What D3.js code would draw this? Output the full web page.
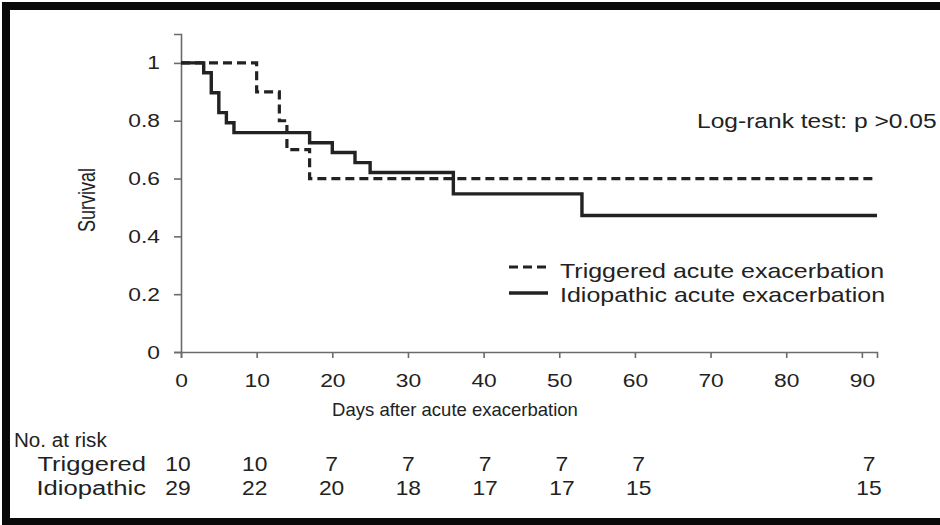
<!DOCTYPE html>
<html>
<head>
<meta charset="utf-8">
<script src="https://cdn.jsdelivr.net/npm/d3@7"></script>
<style>
  body { margin: 0; background: #fff; }
  svg { display: block; font-family: "Liberation Sans", Arial, sans-serif; }
</style>
</head>
<body>
<svg id="chart" width="940" height="525"></svg>
<script>
// Kaplan-Meier steps: [day, survival]
const triggeredSteps = [[0, 1], [10, 0.9], [13, 0.8], [14, 0.7], [17, 0.6], [92, 0.6]];
const idiopathicSteps = [[0, 1], [3, 0.966], [4, 0.897], [5, 0.828], [6, 0.793], [7, 0.759],
  [17, 0.724], [20, 0.69], [23, 0.655], [25, 0.621], [36, 0.547], [53, 0.472], [92, 0.472]];

const xTicks = [0, 10, 20, 30, 40, 50, 60, 70, 80, 90];
const yTicks = [0, 0.2, 0.4, 0.6, 0.8, 1];

// numbers at risk
const riskDays = [0, 10, 20, 30, 40, 50, 60, 90];
const riskTriggered = [10, 10, 7, 7, 7, 7, 7, 7];
const riskIdiopathic = [29, 22, 20, 18, 17, 17, 15, 15];

const svg = d3.select("#chart");
const ink = "#222";

const x = d3.scaleLinear().domain([0, 92]).range([181, 877]);
const y = d3.scaleLinear().domain([0, 1.1]).range([352, 34]);

// the original figure has its lettering stretched sideways
function wideText(g, px, py, str, size, sx, anchor) {
  return g.append("text")
    .attr("transform", `translate(${px},${py}) scale(${sx},1)`)
    .attr("text-anchor", anchor || "start")
    .attr("fill", ink)
    .style("font-size", size + "px")
    .text(str);
}

// frame
svg.append("rect")
  .attr("x", 6).attr("y", 6)
  .attr("width", 980).attr("height", 516)
  .attr("fill", "none")
  .attr("stroke", "#0a0a0a")
  .attr("stroke-width", 8);

// axes
const xAxis = svg.append("g")
  .attr("transform", `translate(0,${y(0)})`)
  .call(d3.axisBottom(x).tickValues(xTicks).tickSizeOuter(0).tickSize(6).tickPadding(16));

const yAxis = svg.append("g")
  .attr("transform", `translate(${x(0)},0)`)
  .call(d3.axisLeft(y).tickValues(yTicks).tickFormat(d3.format("~g")).tickSizeOuter(0).tickSize(7));

[xAxis, yAxis].forEach(g => {
  g.select(".domain").attr("stroke", "#6b6b6b").attr("stroke-width", 1.6);
  g.selectAll(".tick line").attr("stroke", "#6b6b6b").attr("stroke-width", 1.6);
  g.selectAll(".tick text").attr("fill", ink).style("font-size", "19px")
    .attr("transform", "scale(1.2,1)");
});
yAxis.selectAll(".tick text").attr("x", -21 / 1.2);

// axis titles
svg.append("text")
  .attr("x", 455).attr("y", 416)
  .attr("text-anchor", "middle")
  .attr("fill", ink)
  .style("font-size", "18.5px")
  .text("Days after acute exacerbation");

svg.append("text")
  .attr("transform", "translate(95,200) scale(1.3,1) rotate(-90)")
  .attr("text-anchor", "middle")
  .attr("fill", ink)
  .style("font-size", "18px")
  .text("Survival");

// curves
const step = d3.line().x(d => x(d[0])).y(d => y(d[1])).curve(d3.curveStepAfter);

svg.append("path")
  .datum(triggeredSteps)
  .attr("d", step)
  .attr("fill", "none")
  .attr("stroke", ink)
  .attr("stroke-width", 3.2)
  .attr("stroke-dasharray", "9,5");

svg.append("path")
  .datum(idiopathicSteps)
  .attr("d", step)
  .attr("fill", "none")
  .attr("stroke", ink)
  .attr("stroke-width", 3.4);

// legend
const legend = svg.append("g").attr("transform", "translate(509,267)");
legend.append("line").attr("x1", 0).attr("x2", 39).attr("y1", 0).attr("y2", 0)
  .attr("stroke", ink).attr("stroke-width", 3.2).attr("stroke-dasharray", "9,5");
legend.append("line").attr("x1", 0).attr("x2", 39).attr("y1", 26).attr("y2", 26)
  .attr("stroke", ink).attr("stroke-width", 3.4);
wideText(legend, 51, 11, "Triggered acute exacerbation", 21, 1.19);
wideText(legend, 51, 35, "Idiopathic acute exacerbation", 21, 1.19);

wideText(svg, 697, 128, "Log-rank test: p >0.05", 21, 1.17);

// risk table
const xr = d3.scaleLinear().domain([0, 90]).range([178, 869]);
const risk = svg.append("g");

wideText(risk, 14, 447, "No. at risk", 20, 1.03);
wideText(risk, 146, 471, "Triggered", 20, 1.28, "end");
wideText(risk, 146, 495, "Idiopathic", 20, 1.28, "end");

riskDays.forEach((d, i) => {
  wideText(risk, xr(d), 471, riskTriggered[i], 20, 1.14, "middle");
  wideText(risk, xr(d), 495, riskIdiopathic[i], 20, 1.14, "middle");
});
</script>
</body>
</html>
